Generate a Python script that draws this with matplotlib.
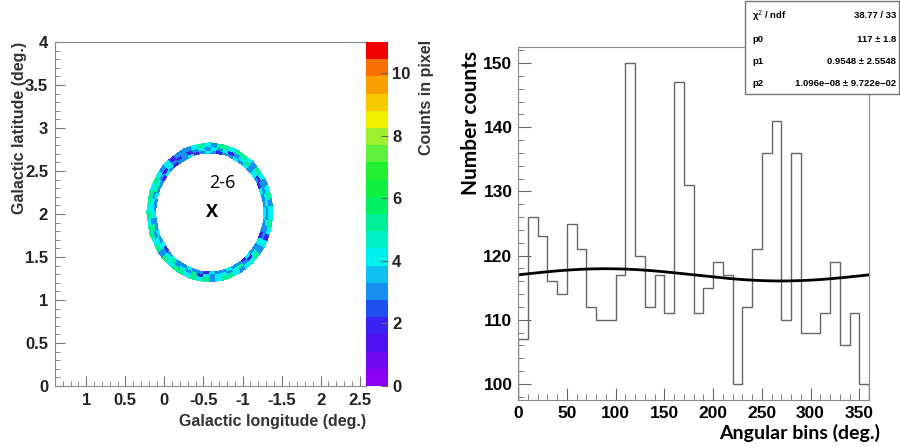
import matplotlib
matplotlib.use('Agg')
import matplotlib.pyplot as plt
from matplotlib.colors import ListedColormap, BoundaryNorm
from matplotlib.patches import Rectangle
import numpy as np

# ---- left panel: ring of counts around the source position ----
ring_center = (-0.58, 2.02)          # (longitude, latitude)
ring_radii = [0.695, 0.73, 0.765, 0.80]  # radial cell edges (deg.)
# counts per angular sector (60 sectors, counter-clockwise from screen right)
ring_inner = [4, 3, 3, 4, 2, 3, 4, 3, 4, 3, 4, 3, 3, 2, 3, 4, 3, 2, 4, 3,
              3, 2, 3, 4, 2, 3, 3, 4, 3, 3, 4, 3, 3, 4, 3, 4, 2, 3, 4, 3,
              3, 4, 3, 3, 2, 4, 3, 3, 4, 3, 3, 2, 4, 3, 3, 4, 2, 3, 3, 4]
ring_middle = [3, 4, 4, 3, 3, 2, 4, 3, 5, 4, 3, 2, 4, 3, 4, 3, 4, 3, 2, 3,
               2, 3, 4, 2, 3, 4, 5, 3, 4, 4, 4, 3, 5, 3, 4, 4, 3, 4, 5, 3,
               4, 3, 5, 2, 4, 3, 4, 4, 3, 4, 5, 3, 2, 4, 3, 4, 3, 3, 4, 3]
ring_outer = [4, 3, 5, 4, 3, 4, 5, 3, 4, 5, 5, 4, 5, 5, 3, 4, 5, 4, 3, 3,
              3, 2, 4, 3, 4, 5, 4, 5, 5, 4, 5, 4, 5, 5, 4, 5, 3, 5, 4, 5,
              5, 4, 5, 4, 5, 3, 4, 5, 5, 4, 3, 4, 4, 5, 3, 4, 2, 4, 5, 4]
lon_ticks = [1, 0.5, 0, -0.5, -1, -1.5, -2, -2.5]
lon_labels = ['1', '0.5', '0', '-0.5', '-1', '-1.5', '2', '2.5']
lat_ticks = [0, 0.5, 1, 1.5, 2, 2.5, 3, 3.5, 4]
lat_labels = ['0', '0.5', '1', '1.5', '2', '2.5', '3', '3.5', '4']
z_levels = np.linspace(0, 11, 21)
z_colors = ['#8a00f0', '#7008f0', '#5012f0', '#3a22f0', '#2050f0',
            '#1590f0', '#10c0f0', '#00f0f0', '#00f0c8', '#00f098',
            '#00f060', '#10f040', '#20f030', '#60f040', '#a0f030',
            '#f0f000', '#f8c800', '#f8a000', '#f87000', '#f00000']
z_ticks = [0, 2, 4, 6, 8, 10]

# ---- right panel: angular histogram ----
bin_edges = np.arange(0, 370, 10)
counts = [107, 126, 123, 116, 114, 125, 121, 112, 110, 110, 117, 150,
          120, 112, 117, 111, 147, 131, 111, 115, 119, 117, 100, 112,
          121, 136, 141, 110, 136, 108, 108, 111, 119, 106, 111, 100]
fit_p0, fit_p1, fit_p2 = 117.0, 0.9548, 1.096e-08
stat_rows = [('\u03c7$^2$ / ndf', '38.77 / 33'),
             ('p0', '117 \u00b1 1.8'),
             ('p1', '0.9548 \u00b1 2.5548'),
             ('p2', '1.096e\u221208 \u00b1 9.722e\u221202')]

fig = plt.figure(figsize=(9, 4.47), dpi=100)
W, H = 900, 447


def box(x0, y0, x1, y1):
    return [x0 / W, 1 - y1 / H, (x1 - x0) / W, (y1 - y0) / H]


frame_col = '#888888'

# left map
ax1 = fig.add_axes(box(55, 42, 366, 386))
cmap = ListedColormap(z_colors)
norm = BoundaryNorm(z_levels, cmap.N)
n_sec = len(ring_outer)
theta = np.linspace(0, 2 * np.pi, n_sec + 1)
R, T = np.meshgrid(ring_radii, theta, indexing='ij')
X = ring_center[0] - R * np.cos(T)
Y = ring_center[1] + R * np.sin(T)
C = np.array([ring_inner, ring_middle, ring_outer])
mesh = ax1.pcolormesh(X, Y, C, cmap=cmap, norm=norm, shading='flat',
                      edgecolors='face', linewidth=0.3)
ax1.set_xlim(1.4, -2.58)
ax1.set_ylim(0, 4)
ax1.set_xticks(lon_ticks)
ax1.set_xticklabels(lon_labels)
ax1.set_yticks(lat_ticks)
ax1.set_yticklabels(lat_labels)
ax1.set_xticks(np.arange(-2.5, 1.45, 0.1), minor=True)
ax1.set_yticks(np.arange(0, 4.01, 0.1), minor=True)
ax1.tick_params(which='both', direction='in', color='#777777', labelsize=12,
                labelcolor='#222222', top=False, right=False, pad=5)
ax1.tick_params(which='major', length=7)
ax1.tick_params(which='minor', length=3.5)
for lab in ax1.get_xticklabels() + ax1.get_yticklabels():
    lab.set_fontfamily('Liberation Sans')
    lab.set_fontweight('bold')
for s in ax1.spines.values():
    s.set_color(frame_col)
    s.set_linewidth(0.8)
ax1.set_xlabel('Galactic longitude (deg.)', fontsize=11.5, fontweight='bold',
               family='Liberation Sans', color='#333333', loc='right')
ax1.set_ylabel('Galactic latitude (deg.)', fontsize=11.5, fontweight='bold',
               family='Liberation Sans', color='#333333', loc='top')
ax1.xaxis.set_label_coords(1.0, -0.08)
ax1.yaxis.set_label_coords(-0.09, 1.0)
ax1.text(-0.74, 2.36, '2-6', fontsize=13, family='Open Sans',
         ha='center', va='center')
ax1.text(-0.61, 2.02, 'X', fontsize=13, family='Open Sans', fontweight='bold',
         ha='center', va='center')

cax = fig.add_axes(box(366, 42, 388, 386))
cb = fig.colorbar(mesh, cax=cax, ticks=z_ticks)
cb.outline.set_visible(False)
cax.tick_params(direction='in', length=5, color='#666666', labelsize=12,
                labelcolor='#222222', pad=3)
for lab in cax.get_yticklabels():
    lab.set_fontfamily('Liberation Sans')
    lab.set_fontweight('bold')
cax.minorticks_off()
fig.text(426 / W, 1 - 40 / H, 'Counts in pixel', rotation=90, ha='center',
         va='top', fontsize=11.5, fontweight='bold', family='Liberation Sans',
         color='#333333')

# right histogram
ax2 = fig.add_axes(box(518, 47, 869, 400))
ax2.stairs(counts, bin_edges, color='#666666', linewidth=1.0)
fit_x = np.linspace(0, 360, 361)
fit_y = fit_p0 + fit_p1 * np.sin(np.radians(fit_x) + fit_p2)
ax2.plot(fit_x, fit_y, color='black', linewidth=2.0)
ax2.set_xlim(0, 360)
ax2.set_ylim(97.5, 152.5)
ax2.set_xticks(np.arange(0, 351, 50))
ax2.set_xticks(np.arange(0, 361, 10), minor=True)
ax2.set_yticks(np.arange(100, 151, 10))
ax2.set_yticks(np.arange(98, 153, 2), minor=True)
ax2.tick_params(which='both', direction='in', color='#666666', labelsize=12.5,
                top=False, right=False, pad=4)
ax2.tick_params(which='major', length=9)
ax2.tick_params(which='minor', length=4.5)
for lab in ax2.get_xticklabels() + ax2.get_yticklabels():
    lab.set_fontfamily('Liberation Sans')
    lab.set_fontweight('bold')
for s in ax2.spines.values():
    s.set_color(frame_col)
    s.set_linewidth(0.8)
ax2.set_ylabel('Number counts', fontsize=15, fontweight='bold',
               family='Lato', loc='top')
ax2.set_xlabel('Angular bins (deg.)', fontsize=14, fontweight='bold',
               family='Lato', loc='right')
ax2.yaxis.set_label_coords(-0.105, 0.99)
ax2.xaxis.set_label_coords(1.032, -0.068)

# fit statistics box
fig.patches.append(Rectangle((745 / W, 1 - 94 / H), 154 / W, 93.5 / H,
                             transform=fig.transFigure, facecolor='white',
                             edgecolor='#777777', linewidth=1.0, zorder=10))
row_y = [16, 39, 62, 84]
for (name, val), yy in zip(stat_rows, row_y):
    fig.text(752 / W, 1 - yy / H, name, fontsize=6.8, fontweight='bold',
             family='Liberation Sans', va='center', ha='left', zorder=11)
    fig.text(896 / W, 1 - yy / H, val, fontsize=6.8, fontweight='bold',
             family='Liberation Sans', va='center', ha='right', zorder=11)

fig.savefig('out.png', dpi=100)
